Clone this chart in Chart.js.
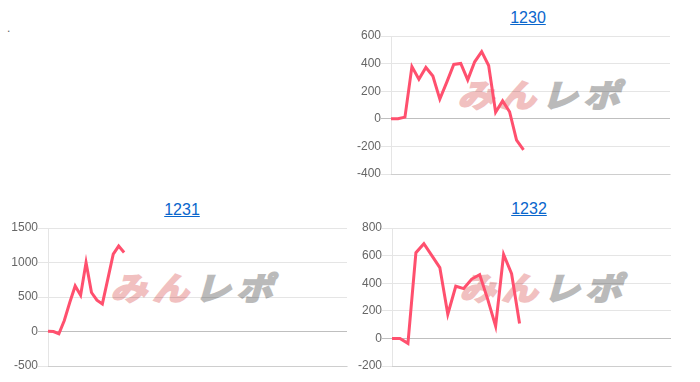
<!DOCTYPE html>
<html>
<head>
<meta charset="utf-8">
<script src="https://cdn.jsdelivr.net/npm/chart.js@4/dist/chart.umd.min.js"></script>
<style>
  html, body { margin: 0; padding: 0; background: #fff; width: 700px; height: 382px; overflow: hidden; }
  body { position: relative; font-family: "Liberation Sans", Arial, sans-serif; }
  .title { position: absolute; font-size: 16px; color: #0a66cc; text-decoration: underline; width: 120px; text-align: center; }
  .wm { position: absolute; font-family: "Noto Sans CJK JP", sans-serif; font-weight: 700; font-size: 36px; line-height: 36px; letter-spacing: 6px; white-space: nowrap; transform: skewX(-16deg) scaleY(0.88); transform-origin: left top; }
  .wm .a { color: rgb(241, 192, 192); -webkit-text-stroke: 2.5px rgb(241, 192, 192); }
  .wm .b { color: rgb(186, 186, 186); -webkit-text-stroke: 2.5px rgb(186, 186, 186); }
  .box { position: absolute; }
  .dot { position: absolute; left: 7px; top: 21px; font-size: 12px; color: #666; }
</style>
</head>
<body>
<div class="dot">.</div>

<a class="title" href="#" style="left:468px; top:9px;">1230</a>
<a class="title" href="#" style="left:122px; top:201px;">1231</a>
<a class="title" href="#" style="left:469px; top:200px;">1232</a>

<div class="wm" style="left:466px; top:77px;"><span class="a">みん</span><span class="b">レポ</span></div>
<div class="wm" style="left:119px; top:270px;"><span class="a">みん</span><span class="b">レポ</span></div>
<div class="wm" style="left:468px; top:270px;"><span class="a">みん</span><span class="b">レポ</span></div>

<div class="box" style="left:350px; top:26px; width:330px; height:158px;"><canvas id="c1"></canvas></div>
<div class="box" style="left:0px; top:218px; width:357px; height:158px;"><canvas id="c2"></canvas></div>
<div class="box" style="left:350px; top:218px; width:331px; height:158px;"><canvas id="c3"></canvas></div>

<script>
// ---- data ----
const labels1230 = [1,2,3,4,5,6,7,8,9,10,11,12,13,14,15,16,17,18,19,20,21,22,23,24,25,26,27,28,29,30,31,32,33,34,35,36,37,38,39,40,41];
const values1230 = [0, 0, 12, 378, 287, 372, 310, 143, 266, 394, 401, 282, 413, 487, 386, 48, 130, 51, -155, -226];
const ticks1230 = [-400, -200, 0, 200, 400, 600];

const labels1231 = [1,2,3,4,5,6,7,8,9,10,11,12,13,14,15,16,17,18,19,20,21,22,23,24,25,26,27,28,29,30,31,32,33,34,35,36,37,38,39,40,41,42,43,44,45,46,47,48,49,50,51,52,53,54,55,56];
const values1231 = [5, 0, -32, 160, 420, 660, 525, 1000, 565, 455, 400, 760, 1120, 1238, 1145];
const ticks1231 = [-500, 0, 500, 1000, 1500];

const labels1232 = [1,2,3,4,5,6,7,8,9,10,11,12,13,14,15,16,17,18,19,20,21,22,23,24,25,26,27,28,29,30,31,32,33,34,35,36];
const values1232 = [0, 0, -36, 621, 686, 600, 513, 175, 378, 361, 430, 462, 285, 88, 608, 469, 108];
const ticks1232 = [-200, 0, 200, 400, 600, 800];

const lineColor = 'rgb(255, 80, 110)';

function makeChart(id, labels, values, ticks, axisWidth) {
  const step = ticks[1] - ticks[0];
  return new Chart(document.getElementById(id), {
    type: 'line',
    data: {
      labels: labels,
      datasets: [{
        data: values,
        borderColor: lineColor,
        backgroundColor: lineColor,
        borderWidth: 3,
        pointRadius: 0,
        pointHoverRadius: 0,
        tension: 0,
        fill: false
      }]
    },
    options: {
      responsive: true,
      maintainAspectRatio: false,
      animation: false,
      events: [],
      layout: { padding: { top: 10, bottom: 10, left: 0, right: 10 } },
      plugins: { legend: { display: false }, tooltip: { enabled: false }, title: { display: false } },
      scales: {
        x: {
          offset: false,
          ticks: { display: false },
          grid: { display: false, drawTicks: false },
          border: { display: true, color: 'rgba(0,0,0,0.1)', width: 1 },
          afterFit: (s) => { s.height = 0; }
        },
        y: {
          min: ticks[0],
          max: ticks[ticks.length - 1],
          ticks: {
            stepSize: step,
            color: '#666',
            padding: 0,
            font: { family: '"Liberation Sans", Arial, sans-serif', size: 12 },
            callback: (v) => String(v)
          },
          grid: {
            color: (ctx) => (ctx.tick && ctx.tick.value === 0) ? 'rgba(0,0,0,0.25)' : 'rgba(0,0,0,0.1)',
            tickLength: 10,
            drawTicks: true
          },
          border: { display: true, color: 'rgba(0,0,0,0.1)', width: 1 },
          afterFit: (s) => { s.width = axisWidth; }
        }
      }
    }
  });
}

makeChart('c1', labels1230, values1230, ticks1230, 41);
makeChart('c2', labels1231, values1231, ticks1231, 48);
makeChart('c3', labels1232, values1232, ticks1232, 42);
</script>
</body>
</html>
